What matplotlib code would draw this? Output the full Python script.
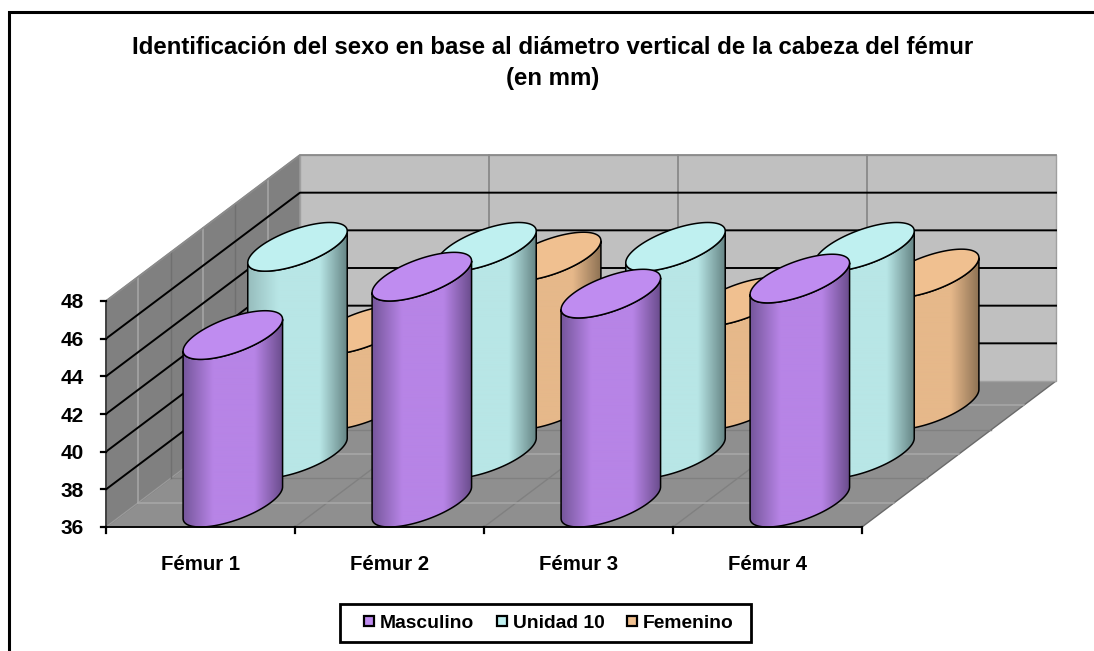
import numpy as np
import matplotlib
matplotlib.use("Agg")
import matplotlib.pyplot as plt
from matplotlib.patches import Polygon, Rectangle
from matplotlib.colors import LinearSegmentedColormap

plt.rcParams['font.family'] = ['Liberation Sans', 'DejaVu Sans']
plt.rcParams['font.weight'] = 'bold'

# datos
categorias = ['Fémur 1', 'Fémur 2', 'Fémur 3', 'Fémur 4']
series = ['Masculino', 'Unidad 10', 'Femenino']
masculino = [44.9, 48.0, 47.1, 47.9]
unidad10 = [47.0, 47.0, 47.0, 47.0]
femenino = [40.0, 43.9, 41.5, 43.0]
valores = [masculino, unidad10, femenino]
ticks_y = [36, 38, 40, 42, 44, 46, 48]

titulo = 'Identificación del sexo en base al diámetro vertical de la cabeza del fémur'
subtitulo = '(en mm)'

# colores: tapa, izquierda, claro, derecha
colores = {
    'Masculino': ('#bf8cf0', '#75569b', '#b784e6', '#6a4c8c'),
    'Unidad 10': ('#bff0f0', '#97bdbd', '#b8e6e6', '#648383'),
    'Femenino': ('#f0c090', '#c9a078', '#e6b88a', '#8f7355'),
}

# proyeccion del 3D de Excel a pixeles
X0, Y0 = 106, 527       # esquina frontal izquierda
ANCHO_CAT = 189
DX, DY = 194, -146      # desplazamiento de profundidad
PX_UNIDAD = 226 / 12
NCAT = len(categorias)
NSER = len(series)


def proy(c, d, v=36):
    # c en categorias, d de 0 a 1 en profundidad, v en mm
    return X0 + c * ANCHO_CAT + d * DX, Y0 + d * DY - (v - 36) * PX_UNIDAD


def elipse(c, d, v, t):
    # circulo de la base, gap width 150%
    rx = 0.2
    rd = 0.5 / NSER
    return proy(c + rx * np.cos(t), d + rd * np.sin(t), v)


fig = plt.figure(figsize=(10.94, 6.51), dpi=100)
ax = fig.add_axes([0, 0, 1, 1])
ax.set_xlim(0, 1094)
ax.set_ylim(651, 0)
ax.axis('off')

# marco exterior, a la derecha y abajo queda fuera de la imagen
ax.plot([9, 9, 1100], [660, 12, 12], color='black', lw=2.2, zorder=1, solid_joinstyle='miter')

# paredes y suelo
ax.add_patch(Polygon([proy(0, 0), proy(NCAT, 0), proy(NCAT, 1), proy(0, 1)], fc='#8f8f8f', ec='#6a6a6a', lw=1, zorder=2))
ax.add_patch(Polygon([proy(0, 0), proy(0, 1), proy(0, 1, 48), proy(0, 0, 48)], fc='#808080', ec='#9a9a9a', lw=1, zorder=2))
ax.add_patch(Polygon([proy(0, 1), proy(NCAT, 1), proy(NCAT, 1, 48), proy(0, 1, 48)], fc='#c0c0c0', ec='#a0a0a0', lw=1, zorder=2))

# rejilla vertical
for i in range(1, NCAT):
    xs, ys = zip(proy(i, 1), proy(i, 1, 48))
    ax.plot(xs, ys, color='#808080', lw=1.1, zorder=3)
    xs, ys = zip(proy(i, 0), proy(i, 1))
    ax.plot(xs, ys, color='#808080', lw=1, zorder=3)

# rejilla de profundidad: clara en el centro de cada serie, oscura entre series
for j in range(NSER):
    d = (j + 0.5) / NSER
    xs, ys = zip(proy(0, d), proy(NCAT, d))
    ax.plot(xs, ys, color='#a8a8a8', lw=1.1, zorder=3)
    xs, ys = zip(proy(0, d), proy(0, d, 48))
    ax.plot(xs, ys, color='#a8a8a8', lw=1.1, zorder=3)
for j in range(1, NSER):
    d = j / NSER
    xs, ys = zip(proy(0, d), proy(NCAT, d))
    ax.plot(xs, ys, color='#808080', lw=1, zorder=3)
    xs, ys = zip(proy(0, d), proy(0, d, 48))
    ax.plot(xs, ys, color='#707070', lw=1, zorder=3)

# rejilla horizontal
for v in ticks_y[1:-1]:
    xs, ys = zip(proy(0, 0, v), proy(0, 1, v), proy(NCAT, 1, v))
    ax.plot(xs, ys, color='black', lw=1.4, zorder=4)
xs, ys = zip(proy(0, 0, 48), proy(0, 1, 48), proy(NCAT, 1, 48))
ax.plot(xs, ys, color='#8a8a8a', lw=1.3, zorder=4)

# cilindros, del fondo hacia el frente
z = 10
t0 = np.arctan2(0.5 / NSER * DX, 0.2 * ANCHO_CAT)
for j in reversed(range(NSER)):
    tapa, izq, claro, der = colores[series[j]]
    cmap = LinearSegmentedColormap.from_list(series[j], [
        (0, izq), (0.3, claro), (0.72, claro), (1, der)])
    d = (j + 0.5) / NSER
    for i in range(NCAT):
        c = i + 0.5
        v = valores[j][i]
        tf = np.linspace(t0 + np.pi, t0 + 2 * np.pi, 70)
        xb, yb = elipse(c, d, 36, tf)
        xt, yt = elipse(c, d, v, tf[::-1])
        contorno = np.r_[np.c_[xb, yb], np.c_[xt, yt]]
        ax.add_patch(Polygon(contorno, closed=True, fc='none', ec='black', lw=1.1, zorder=z + 1))
        relleno = Polygon(contorno, closed=True, fc='none', ec='none')
        ax.add_patch(relleno)
        img = ax.imshow(np.linspace(0, 1, 200).reshape(1, -1), cmap=cmap, vmin=0, vmax=1, aspect='auto',
                        extent=(xb[0], xb[-1], yb.max(), yt.min()), zorder=z, interpolation='bilinear')
        img.set_clip_path(relleno)
        tt = np.linspace(0, 2 * np.pi, 120)
        xe, ye = elipse(c, d, v, tt)
        ax.add_patch(Polygon(np.c_[xe, ye], closed=True, fc=tapa, ec='black', lw=1.1, zorder=z + 2))
        z += 3

ax.set_xlim(0, 1094)
ax.set_ylim(651, 0)

# ejes
ax.plot([X0, X0], [proy(0, 0, 36)[1], proy(0, 0, 48)[1]], color='#303030', lw=1.2, zorder=200)
ax.plot([X0, proy(NCAT, 0)[0]], [Y0, Y0], color='black', lw=1.3, zorder=200)
for v in ticks_y:
    y = proy(0, 0, v)[1]
    ax.plot([X0 - 5, X0], [y, y], color='black', lw=1.6, zorder=200)
    ax.text(84, y + 2, str(v), ha='right', va='center', fontsize=15, zorder=200)
for i in range(NCAT + 1):
    x = proy(i, 0)[0]
    ax.plot([x, x], [Y0, Y0 + 6], color='black', lw=1.6, zorder=200)
for i, nombre in enumerate(categorias):
    ax.text(proy(i + 0.5, 0)[0], 565, nombre, ha='center', va='center', fontsize=14.7, zorder=200)

# titulo
ax.text(553, 47, titulo, ha='center', va='center', fontsize=17.3, zorder=200)
ax.text(553, 79, subtitulo, ha='center', va='center', fontsize=17.3, zorder=200)

# leyenda
ax.add_patch(Rectangle((340, 604), 411, 38, fc='white', ec='black', lw=2, zorder=200))
x_ley = [364, 497, 627]
for x, nombre in zip(x_ley, series):
    ax.add_patch(Rectangle((x, 616), 10, 10, fc=colores[nombre][0], ec='black', lw=1.6, zorder=201))
    ax.text(x + 16, 624, nombre, ha='left', va='center', fontsize=13.9, zorder=201)

fig.savefig('out.png', dpi=100)
